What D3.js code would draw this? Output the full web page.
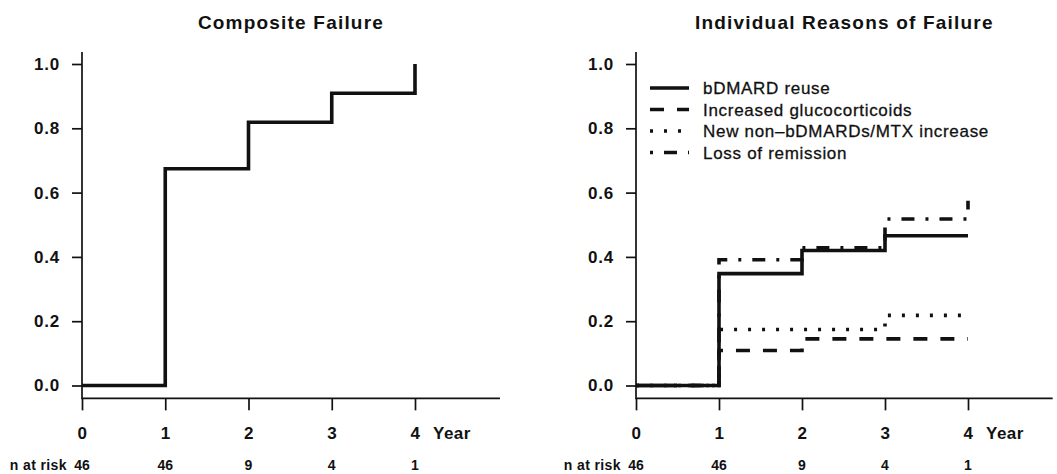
<!DOCTYPE html>
<html>
<head>
<meta charset="utf-8">
<script src="https://cdn.jsdelivr.net/npm/d3@7"></script>
<style>
  html, body { margin: 0; padding: 0; background: #fff; }
  svg { display: block; font-family: "Liberation Sans", Arial, Helvetica, sans-serif; }
  .tick text { font-weight: bold; font-size: 17px; letter-spacing: 0.8px; fill: #111; }
</style>
</head>
<body>
<svg id="chart" width="1057" height="474"></svg>
<script>
// values (cumulative incidence of failure, by year)
const years = [0, 1, 2, 3, 4];
const nAtRisk = [46, 46, 9, 4, 1];
const yTicks = [0, 0.2, 0.4, 0.6, 0.8, 1.0];

const compositeFailure = [0, 0.674, 0.819, 0.909, 1.0];

const bdmardReuse = [0, 0.348, 0.42, 0.466, 0.466];
const glucocorticoids = [0, 0.109, 0.145, 0.145, 0.145];
const nonBdmardMtx = [0, 0.174, 0.174, 0.218, 0.218];
const lossOfRemission = [0, 0.391, 0.428, 0.518, 0.575];

const reasonNames = [
  "bDMARD reuse",
  "Increased glucocorticoids",
  "New non\u2013bDMARDs/MTX increase",
  "Loss of remission",
];

const dashes = {
  solid: null,
  dashed: "14,13",
  dotted: "3,11",
  dotdash: "3,11,13,11",
};

const svg = d3.select("#chart");
svg.append("rect").attr("width", 1057).attr("height", 474).attr("fill", "#fff");

function KMPanel({ x0, x4, title, series, showLegend = false }) {
  const x = d3.scaleLinear().domain([0, 4]).range([x0, x4]);
  const y = d3.scaleLinear().domain([0, 1]).range([385.5, 64]);

  const g = svg.append("g");

  // title centred over the box
  g.append("text")
    .attr("x", (x(0) + x(5.02)) / 2)
    .attr("y", 29)
    .attr("text-anchor", "middle")
    .style("font-weight", "bold")
    .style("font-size", "19px")
    .style("letter-spacing", "1.2px")
    .style("fill", "#111")
    .text(title);

  // L-shaped box
  g.append("path")
    .attr("d", `M${x(0)},${y(1.037)}V${y(-0.04)}H${x(5.02)}`)
    .attr("fill", "none")
    .attr("stroke", "#111")
    .attr("stroke-width", 1.7);

  const yAxis = g.append("g")
    .attr("transform", `translate(${x(0)},0)`)
    .call(
      d3.axisLeft(y)
        .tickValues(yTicks)
        .tickFormat(d3.format(".1f"))
        .tickSize(10)
        .tickPadding(12)
    );
  yAxis.select(".domain").remove();
  yAxis.selectAll(".tick line").attr("stroke", "#111").attr("stroke-width", 1.7);

  const xAxis = g.append("g")
    .attr("transform", `translate(0,${y(-0.04)})`)
    .call(
      d3.axisBottom(x)
        .tickValues(years)
        .tickFormat(d3.format("d"))
        .tickSize(12)
        .tickPadding(17)
    );
  xAxis.select(".domain").remove();
  xAxis.selectAll(".tick line").attr("stroke", "#111").attr("stroke-width", 1.7);

  g.append("text")
    .attr("x", x(4) + 18)
    .attr("y", y(-0.04) + 41)
    .style("font-weight", "bold")
    .style("font-size", "17px")
    .style("letter-spacing", "0.5px")
    .style("fill", "#111")
    .text("Year");

  // numbers at risk
  g.append("text")
    .attr("x", x(0) - 15)
    .attr("y", 470)
    .attr("text-anchor", "end")
    .style("font-weight", "bold")
    .style("font-size", "14px")
    .style("letter-spacing", "0.4px")
    .style("fill", "#111")
    .text("n at risk");

  g.selectAll(".risk")
    .data(nAtRisk)
    .join("text")
    .attr("class", "risk")
    .attr("x", (d, i) => x(years[i]))
    .attr("y", 470)
    .attr("text-anchor", "middle")
    .style("font-weight", "bold")
    .style("font-size", "14px")
    .style("fill", "#111")
    .text((d) => d);

  const line = d3.line()
    .x((d, i) => x(years[i]))
    .y((d) => y(d))
    .curve(d3.curveStepAfter);

  // draw broken lines first so the solid one sits on top
  g.selectAll(".km")
    .data(series.slice().reverse())
    .join("path")
    .attr("class", "km")
    .attr("d", (s) => line(s.values))
    .attr("fill", "none")
    .attr("stroke", "#111")
    .attr("stroke-width", 3.6)
    .attr("stroke-dasharray", (s) => dashes[s.style]);

  if (showLegend) {
    const rows = g.selectAll(".legend")
      .data(series)
      .join("g")
      .attr("class", "legend")
      .attr("transform", (s, i) => `translate(${x(0) + 14},${88 + i * 21.5})`);

    rows.append("line")
      .attr("x1", 0)
      .attr("x2", 39)
      .attr("stroke", "#111")
      .attr("stroke-width", 3.4)
      .attr("stroke-dasharray", (s) => dashes[s.style]);

    rows.append("text")
      .attr("x", 53)
      .attr("dy", "0.36em")
      .style("font-size", "17px")
      .style("letter-spacing", "0.7px")
      .style("fill", "#111")
      .style("stroke", "#111")
      .style("stroke-width", 0.3)
      .text((s) => s.name);
  }
}

KMPanel({
  x0: 82,
  x4: 415,
  title: "Composite Failure",
  series: [{ name: "Composite failure", values: compositeFailure, style: "solid" }],
});

KMPanel({
  x0: 636,
  x4: 968,
  title: "Individual Reasons of Failure",
  showLegend: true,
  series: [
    { name: reasonNames[0], values: bdmardReuse, style: "solid" },
    { name: reasonNames[1], values: glucocorticoids, style: "dashed" },
    { name: reasonNames[2], values: nonBdmardMtx, style: "dotted" },
    { name: reasonNames[3], values: lossOfRemission, style: "dotdash" },
  ],
});
</script>
</body>
</html>
